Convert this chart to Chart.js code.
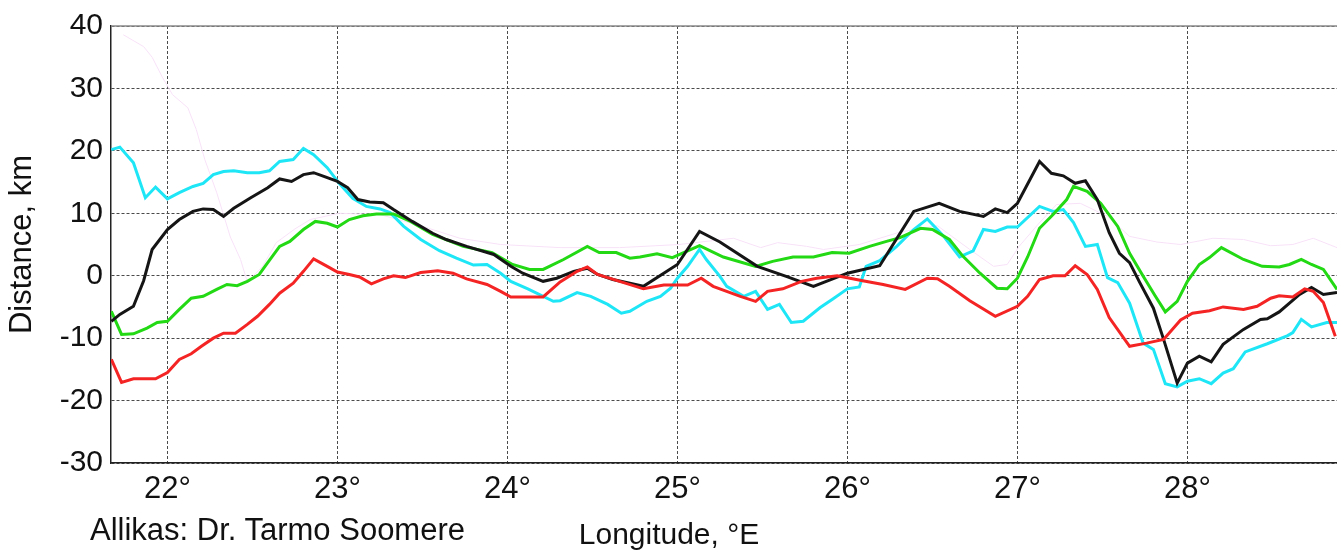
<!DOCTYPE html>
<html>
<head>
<meta charset="utf-8">
<title>Distance vs longitude</title>
<script src="https://cdn.jsdelivr.net/npm/chart.js@4.4.1/dist/chart.umd.min.js"></script>
<style>
  html, body { margin: 0; padding: 0; background: #fff; }
  #wrap { position: relative; width: 1337px; height: 555px; overflow: hidden; }
  .note {
    position: absolute;
    font-family: "Liberation Sans", Arial, Helvetica, sans-serif;
    color: #111;
    white-space: nowrap;
    line-height: 1;
  }
  #xlabel { left: 669px; top: 519px; font-size: 30px; transform: translateX(-50%); }
  #source { left: 90px; top: 514px; font-size: 31px; }
</style>
</head>
<body>
<div id="wrap">
  <canvas id="chart" width="1337" height="555"></canvas>
  <div class="note" id="xlabel">Longitude, °E</div>
  <div class="note" id="source">Allikas: Dr. Tarmo Soomere</div>
</div>
<script>
/* ========= Data (longitude °E, distance km) ========= */
const xTicks = [22, 23, 24, 25, 26, 27, 28];
const yTicks = [-30, -20, -10, 0, 10, 20, 30, 40];

const lonBlack = [21.67, 21.72, 21.80, 21.86, 21.91, 22.00, 22.07, 22.15, 22.21, 22.27,
  22.33, 22.39, 22.49, 22.59, 22.66, 22.73, 22.80, 22.86, 22.92, 23.00,
  23.06, 23.12, 23.19, 23.27, 23.33, 23.44, 23.56, 23.64, 23.76, 23.92,
  24.02, 24.09, 24.21, 24.29, 24.39, 24.47, 24.53, 24.62, 24.80, 25.00,
  25.13, 25.25, 25.47, 25.64, 25.80, 26.00, 26.19, 26.25, 26.39, 26.54,
  26.66, 26.80, 26.87, 26.94, 27.00, 27.13, 27.20, 27.27, 27.34, 27.40,
  27.47, 27.54, 27.60, 27.66, 27.72, 27.80, 27.86, 27.94, 28.00, 28.07,
  28.14, 28.21, 28.33, 28.43, 28.47, 28.54, 28.66, 28.73, 28.80, 28.88];
const kmBlack = [-7.3, -6.2, -4.9, -0.8, 4.2, 7.4, 9.0, 10.3, 10.7, 10.6,
  9.5, 10.8, 12.5, 14.1, 15.5, 15.1, 16.2, 16.5, 15.9, 15.1,
  14.1, 12.2, 11.8, 11.7, 10.6, 8.7, 6.8, 5.8, 4.7, 3.4,
  1.5, 0.4, -0.9, -0.4, 0.7, 1.2, 0.2, -0.6, -1.7, 1.8,
  7.1, 5.4, 1.5, -0.1, -1.7, 0.4, 1.6, 4.2, 10.3, 11.6,
  10.3, 9.5, 10.7, 10.1, 11.6, 18.3, 16.4, 16.0, 14.8, 15.2,
  12.2, 6.9, 3.6, 2.1, -1.1, -5.2, -10.2, -17.2, -14.0, -12.9,
  -13.8, -11.0, -8.6, -7.0, -6.9, -5.8, -3.0, -1.9, -3.0, -2.7];

const lonCyan = [21.67, 21.72, 21.80, 21.87, 21.93, 22.00, 22.07, 22.15, 22.21, 22.27,
  22.33, 22.39, 22.47, 22.54, 22.60, 22.66, 22.74, 22.80, 22.86, 22.94,
  23.01, 23.09, 23.17, 23.25, 23.31, 23.39, 23.49, 23.60, 23.70, 23.80,
  23.88, 23.96, 24.02, 24.12, 24.27, 24.31, 24.41, 24.49, 24.59, 24.67,
  24.72, 24.82, 24.90, 24.96, 25.00, 25.06, 25.13, 25.17, 25.25, 25.29,
  25.39, 25.46, 25.53, 25.60, 25.67, 25.74, 25.84, 25.91, 26.00, 26.07,
  26.11, 26.19, 26.29, 26.39, 26.47, 26.57, 26.66, 26.74, 26.80, 26.87,
  26.94, 27.00, 27.13, 27.21, 27.27, 27.33, 27.40, 27.47, 27.53, 27.59,
  27.66, 27.74, 27.80, 27.87, 27.94, 28.00, 28.07, 28.14, 28.21, 28.27,
  28.34, 28.47, 28.59, 28.62, 28.67, 28.73, 28.82, 28.88];
const kmCyan = [20.2, 20.6, 18.1, 12.5, 14.2, 12.3, 13.3, 14.3, 14.8, 16.2,
  16.7, 16.8, 16.5, 16.5, 16.8, 18.3, 18.6, 20.4, 19.4, 17.3,
  14.8, 12.4, 11.1, 10.7, 10.1, 7.9, 5.8, 4.0, 2.8, 1.7,
  1.8, 0.4, -0.9, -2.1, -4.1, -4.0, -2.7, -3.3, -4.6, -6.0,
  -5.7, -4.1, -3.3, -2.0, -0.4, 1.5, 4.2, 2.6, -0.1, -1.7,
  -3.3, -2.5, -5.4, -4.6, -7.5, -7.3, -5.1, -3.8, -2.1, -1.8,
  1.5, 2.4, 4.7, 7.4, 9.1, 6.2, 3.0, 4.0, 7.4, 7.1,
  7.8, 7.8, 11.1, 10.3, 10.6, 8.5, 4.7, 5.0, -0.3, -1.1,
  -4.4, -10.8, -11.8, -17.3, -17.8, -16.9, -16.5, -17.3, -15.6, -14.9,
  -12.2, -10.9, -9.6, -9.1, -7.0, -8.2, -7.5, -7.5];

const lonGreen = [21.67, 21.73, 21.80, 21.88, 21.94, 22.00, 22.07, 22.14, 22.21, 22.29,
  22.35, 22.41, 22.47, 22.54, 22.59, 22.66, 22.72, 22.80, 22.87, 22.94,
  23.00, 23.07, 23.15, 23.23, 23.33, 23.43, 23.56, 23.74, 23.91, 24.03,
  24.13, 24.21, 24.33, 24.47, 24.54, 24.64, 24.72, 24.78, 24.88, 24.97,
  25.13, 25.27, 25.46, 25.56, 25.68, 25.80, 25.91, 26.01, 26.13, 26.23,
  26.31, 26.43, 26.50, 26.60, 26.68, 26.78, 26.88, 26.94, 27.00, 27.06,
  27.13, 27.21, 27.29, 27.33, 27.41, 27.49, 27.59, 27.66, 27.74, 27.81,
  27.87, 27.94, 28.00, 28.07, 28.13, 28.20, 28.33, 28.44, 28.54, 28.60,
  28.67, 28.73, 28.80, 28.88];
const kmGreen = [-5.7, -9.4, -9.3, -8.4, -7.5, -7.3, -5.4, -3.6, -3.3, -2.2,
  -1.4, -1.6, -0.9, 0.2, 2.1, 4.7, 5.5, 7.4, 8.7, 8.4,
  7.8, 9.0, 9.6, 9.9, 9.9, 8.7, 6.6, 4.7, 3.7, 1.8,
  1.0, 1.0, 2.6, 4.7, 3.7, 3.7, 2.8, 3.0, 3.5, 2.9,
  4.8, 3.0, 1.5, 2.3, 3.0, 3.0, 3.7, 3.6, 4.7, 5.5,
  6.1, 7.6, 7.4, 5.8, 3.1, 0.4, -2.0, -2.1, -0.4, 3.0,
  7.6, 9.8, 12.2, 14.3, 13.5, 11.6, 7.9, 3.6, -0.1, -3.2,
  -5.8, -4.1, -0.9, 1.8, 2.9, 4.5, 2.6, 1.5, 1.4, 1.8,
  2.6, 1.8, 1.0, -2.2];

const lonRed = [21.67, 21.73, 21.80, 21.86, 21.93, 22.00, 22.07, 22.14, 22.20, 22.27,
  22.33, 22.40, 22.47, 22.53, 22.60, 22.66, 22.74, 22.80, 22.86, 22.94,
  23.00, 23.07, 23.13, 23.20, 23.27, 23.33, 23.40, 23.49, 23.59, 23.68,
  23.76, 23.88, 23.96, 24.02, 24.21, 24.31, 24.41, 24.47, 24.53, 24.66,
  24.80, 24.92, 25.06, 25.14, 25.21, 25.37, 25.46, 25.53, 25.62, 25.73,
  25.82, 25.94, 26.09, 26.21, 26.34, 26.47, 26.53, 26.60, 26.72, 26.87,
  27.00, 27.06, 27.13, 27.21, 27.28, 27.34, 27.41, 27.47, 27.54, 27.66,
  27.76, 27.86, 27.96, 28.03, 28.13, 28.21, 28.33, 28.41, 28.49, 28.54,
  28.62, 28.69, 28.74, 28.80, 28.87];
const kmRed = [-13.4, -17.1, -16.5, -16.5, -16.5, -15.5, -13.4, -12.5, -11.3, -10.0,
  -9.2, -9.2, -7.8, -6.5, -4.6, -2.8, -1.2, 0.7, 2.7, 1.5,
  0.6, 0.2, -0.2, -1.3, -0.5, 0.0, -0.3, 0.5, 0.8, 0.4,
  -0.5, -1.4, -2.5, -3.4, -3.4, -1.0, 0.7, 1.4, 0.2, -0.9,
  -2.1, -1.5, -1.5, -0.4, -1.7, -3.3, -4.1, -2.5, -2.1, -0.9,
  -0.4, 0.0, -0.8, -1.4, -2.2, -0.4, -0.5, -1.7, -4.0, -6.5,
  -4.9, -3.3, -0.6, 0.0, 0.0, 1.6, 0.2, -2.2, -6.7, -11.3,
  -10.8, -10.2, -7.1, -6.0, -5.6, -5.0, -5.4, -4.9, -3.6, -3.2,
  -3.4, -2.1, -2.5, -4.3, -9.7];

// faint pink background line
const lonPink = [21.74, 21.86, 21.91, 21.97, 22.03, 22.12, 22.17, 22.22, 22.29, 22.37,
  22.43, 22.47, 22.56, 22.64, 22.75, 22.84, 23.01, 23.25, 23.49, 23.72,
  23.96, 24.31, 24.66, 25.01, 25.33, 25.49, 25.59, 25.76, 25.86, 26.07,
  26.31, 26.53, 26.72, 26.86, 26.94, 27.01, 27.13, 27.23, 27.37, 27.53,
  27.66, 27.82, 27.96, 28.15, 28.33, 28.49, 28.62, 28.74, 28.88];
const kmPink = [38.6, 36.7, 35.0, 31.8, 29.0, 26.9, 23.4, 18.6, 13.3, 6.2,
  2.6, -1.0, 1.5, 5.3, 7.5, 9.0, 10.0, 9.8, 8.0, 6.0,
  5.0, 4.5, 4.5, 5.0, 6.0, 4.5, 5.3, 4.7, 4.2, 5.0,
  7.0, 8.0, 4.2, 1.5, 1.8, 4.7, 8.5, 11.4, 11.6, 9.5,
  6.3, 5.4, 5.0, 6.0, 5.8, 4.8, 5.0, 6.0, 4.5];

/* ========= Helpers ========= */
const pts = (lons, vals) => lons.map((x, i) => ({ x: x, y: vals[i] }));
const FONT = '"Liberation Sans", Arial, Helvetica, sans-serif';

const line = (label, lons, vals, color, width) => ({
  label: label,
  data: pts(lons, vals),
  borderColor: color,
  borderWidth: width,
  pointRadius: 0,
  tension: 0,
  fill: false,
});

// solid frame line along the top of the plot
const topFrame = {
  id: "topFrame",
  beforeDatasetsDraw(chart) {
    const { ctx, chartArea } = chart;
    ctx.save();
    ctx.strokeStyle = "#8a8a8a";
    ctx.lineWidth = 1.5;
    ctx.beginPath();
    ctx.moveTo(chartArea.left, chartArea.top);
    ctx.lineTo(chartArea.right, chartArea.top);
    ctx.stroke();
    ctx.restore();
  },
};

/* ========= Chart ========= */
new Chart(document.getElementById("chart"), {
  type: "line",
  data: {
    datasets: [
      line("red", lonRed, kmRed, "#f42424", 3),
      line("black", lonBlack, kmBlack, "#151515", 3),
      line("green", lonGreen, kmGreen, "#22d914", 3),
      line("cyan", lonCyan, kmCyan, "#1ee6f6", 3),
      line("pink", lonPink, kmPink, "#f8e2f8", 1),
    ],
  },
  options: {
    responsive: false,
    animation: false,
    devicePixelRatio: 1,
    layout: { padding: { top: 26, right: 0, bottom: 0, left: 0 } },
    plugins: {
      legend: { display: false },
      tooltip: { enabled: false },
    },
    scales: {
      x: {
        type: "linear",
        min: 21.668,
        max: 28.88,
        afterBuildTicks: (scale) => {
          scale.ticks = xTicks.map((v) => ({ value: v }));
        },
        afterFit: (scale) => {
          scale.height = 92;
        },
        grid: { color: "#4a4a4a", lineWidth: 1, drawTicks: false },
        border: { color: "#222", width: 1.5, dash: [3, 2] },
        ticks: {
          padding: 8,
          color: "#111",
          font: { family: FONT, size: 31 },
          callback: (v) => v + "°",
        },
      },
      y: {
        min: -30,
        max: 40,
        afterBuildTicks: (scale) => {
          scale.ticks = yTicks.map((v) => ({ value: v }));
        },
        afterFit: (scale) => {
          scale.width = 111;
        },
        grid: { color: "#4a4a4a", lineWidth: 1, drawTicks: false },
        border: { color: "#222", width: 1.5, dash: [3, 2] },
        ticks: {
          padding: 8,
          color: "#111",
          font: { family: FONT, size: 30 },
        },
        title: {
          display: true,
          text: "Distance, km",
          color: "#111",
          font: { family: FONT, size: 31 },
          padding: { top: 4, bottom: 0 },
        },
      },
    },
  },
  plugins: [topFrame],
});
</script>
</body>
</html>
